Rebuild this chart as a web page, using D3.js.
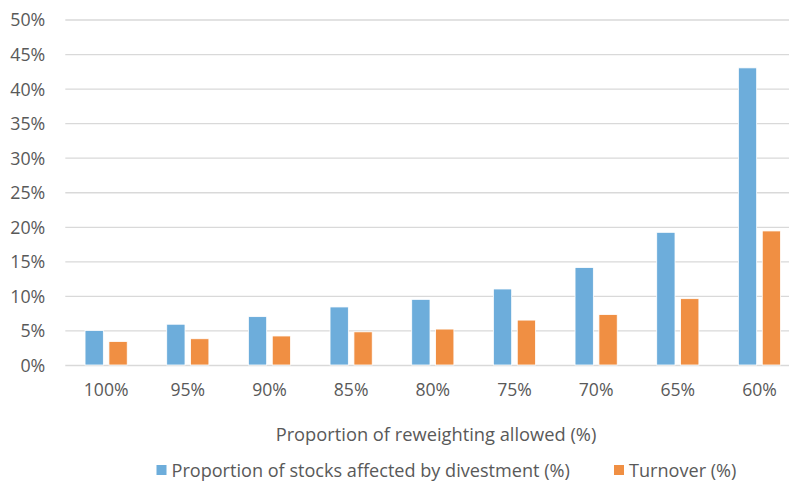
<!DOCTYPE html>
<html><head><meta charset="utf-8">
<script src="https://cdn.jsdelivr.net/npm/d3@7/dist/d3.min.js"></script>
<style>
html,body{margin:0;padding:0;background:#fff;}
text{font-family:"Open Sans",Lato,sans-serif;fill:#595959;}
</style></head>
<body>
<svg id="chart" width="789" height="488"></svg>
<script>
const categories = ["100%","95%","90%","85%","80%","75%","70%","65%","60%"];
const seriesNames = ["Proportion of stocks affected by divestment (%)","Turnover (%)"];
const divestment = [5.0, 5.9, 7.0, 8.4, 9.5, 11.0, 14.1, 19.2, 43.0];
const turnover = [3.4, 3.8, 4.2, 4.8, 5.2, 6.5, 7.3, 9.6, 19.4];
const yTicks = [0,5,10,15,20,25,30,35,40,45,50];
const xTitle = "Proportion of reweighting allowed (%)";
const colors = ["#6DADDB","#F08F43"];

const svg = d3.select("#chart");
const plotL = 65.3, plotR = 800.3, plotT = 19.5, plotB = 365;
const x0 = d3.scaleBand().domain(categories).range([plotL, plotR]).paddingInner(0.4835).paddingOuter(0.24175);
const x1 = d3.scaleBand().domain([0,1]).range([0, x0.bandwidth()]).paddingInner(0.234);
const y = d3.scaleLinear().domain([0,50]).range([plotB, plotT]);

const yAxis = d3.axisLeft(y).tickValues(yTicks).tickFormat(d => d + "%").tickSize(-(plotR-plotL)).tickPadding(20);
const gy = svg.append("g").attr("transform", `translate(${plotL},0)`).call(yAxis);
gy.select(".domain").remove();
gy.selectAll(".tick line").attr("stroke", "#D9D9D9").attr("stroke-width", 1.3);
gy.selectAll(".tick text").style("font-size", "17.8px").attr("fill","#595959").attr("dy","0.36em");

const data = categories.map((c,i)=>({cat:c, vals:[divestment[i], turnover[i]]}));
const groups = svg.append("g").selectAll("g").data(data).join("g")
  .attr("transform", d => `translate(${x0(d.cat)},0)`);
groups.selectAll("rect").data(d => d.vals.map((v,k)=>({k,v}))).join("rect")
  .attr("x", d => x1(d.k)).attr("width", x1.bandwidth())
  .attr("y", d => y(d.v)).attr("height", d => y(0) - y(d.v))
  .attr("fill", d => colors[d.k]).attr("stroke","#fff").attr("stroke-width",0.8);

const xAxis = d3.axisBottom(x0).tickSize(0).tickPadding(19);
const gx = svg.append("g").attr("transform", `translate(0,${plotB})`).call(xAxis);
gx.select(".domain").remove();
gx.selectAll(".tick text").style("font-size","17.6px").attr("fill","#595959");

svg.append("text").attr("x", 436).attr("y", 441).attr("text-anchor","middle")
  .style("font-size","18.3px").text(xTitle);

const legend = svg.append("g");
const lx = [156.5, 614];
seriesNames.forEach((n,i)=>{
  legend.append("rect").attr("x", lx[i]).attr("y", 465).attr("width", 10).attr("height", 10).attr("fill", colors[i]);
  legend.append("text").attr("x", lx[i]+15).attr("y", 477).style("font-size","18.1px").text(n);
});
</script>
</body></html>
